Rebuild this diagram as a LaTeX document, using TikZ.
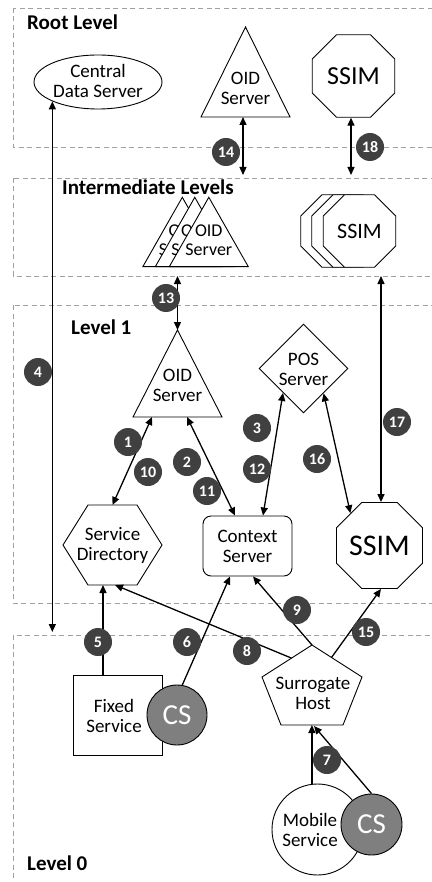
\documentclass[tikz,border=0pt]{standalone}
\usepackage{fontspec}
\setmainfont{Carlito}
\usetikzlibrary{arrows.meta,calc,shapes.geometric}
\definecolor{lvlgray}{HTML}{A0A0A0}
\definecolor{badgegray}{HTML}{404040}
\definecolor{csgray}{HTML}{7F7F7F}

\begin{document}
\begin{tikzpicture}[x=1pt,y=-1pt,
  lvl/.style={draw=lvlgray, line width=0.9pt, dash pattern=on 5pt off 3.5pt},
  lvllabel/.style={font=\fontsize{21}{24}\selectfont\bfseries, inner sep=0pt, anchor=base west},
  box/.style 2 args={rectangle, inner sep=0pt, outer sep=0pt, minimum width=#1, minimum height=#2},
  shp/.style={draw=black, fill=white, line width=0.9pt},
  txt/.style={align=center, inner sep=0pt, font=\fontsize{19}{20}\selectfont},
  link/.style={line width=1.3pt, -{Triangle[length=8pt,width=7pt]}},
  both/.style={line width=1.3pt, {Triangle[length=8pt,width=7pt]}-{Triangle[length=8pt,width=7pt]}},
  badge/.style={circle, fill=badgegray, text=white, inner sep=0pt, minimum size=28pt,
                font=\fontsize{16}{16}\selectfont\bfseries},
  oct/.style={regular polygon, regular polygon sides=8, shp, inner sep=0pt, minimum size=#1},
  csdot/.style={circle, draw=black, fill=csgray, text=white, line width=0.9pt, inner sep=0pt,
                minimum size=60pt, font=\fontsize{29}{30}\selectfont},
]
\useasboundingbox (0,0) rectangle (431,882);

% ---------- level frames ----------
\draw[lvl] (13,8)   rectangle (445,147);
\draw[lvl] (13,178) rectangle (445,276);
\draw[lvl] (13,305) rectangle (445,603);
\draw[lvl] (13,635) rectangle (445,900);
\node[lvllabel] (lvRoot)  at (27,30)  {Root Level};
\node[lvllabel] (lvInter) at (62,195) {Intermediate Levels};
\node[lvllabel] (lvOne)   at (71,334) {Level 1};
\node[lvllabel] (lvZero)  at (27,870) {Level 0};

\coordinate (interTop) at (0,175);
\coordinate (interBot) at (0,276);
\coordinate (zeroTop)  at (0,632);

% ---------- root level ----------
\node[ellipse, shp, inner sep=0pt, minimum width=128pt, minimum height=54pt] (cds) at (98,82) {};
\node[txt] (cdsT) at (98,81) {Central\\Data Server};

\node[box={89pt}{90pt}] (oidR) at (245.5,72) {};
\draw[shp] (oidR.south west) -- (oidR.north) -- (oidR.south east) -- cycle;
\node[txt] (oidRT) at ($(oidR.center)+(0,16)$) {OID\\Server};

\node[oct=89.3pt, font=\fontsize{26}{28}\selectfont] (ssimR) at (353.5,76) {SSIM};

% ---------- intermediate levels ----------
\node[box={79pt}{69.4pt}] (oidI3) at (182.3,232) {};
\draw[shp] (oidI3.south west) -- (oidI3.north) -- (oidI3.south east) -- cycle;
\node[txt, font=\fontsize{18}{19}\selectfont] (oidI3T) at ($(oidI3.center)+(0,8)$) {OID\\Server};
\node[box={79pt}{69.4pt}] (oidI2) at (194.8,232) {};
\draw[shp] (oidI2.south west) -- (oidI2.north) -- (oidI2.south east) -- cycle;
\node[txt, font=\fontsize{18}{19}\selectfont] (oidI2T) at ($(oidI2.center)+(0,8)$) {OID\\Server};
\node[box={79pt}{69.4pt}] (oidI1) at (208.8,232) {};
\draw[shp] (oidI1.south west) -- (oidI1.north) -- (oidI1.south east) -- cycle;
\node[txt, font=\fontsize{18}{19}\selectfont] (oidI1T) at ($(oidI1.center)+(0,8)$) {OID\\Server};

\node[oct=78.5pt] (ssimI3) at (337,231) {};
\node[oct=78.5pt] (ssimI2) at (348,231) {};
\node[oct=78.5pt, font=\fontsize{22}{24}\selectfont] (ssimI1) at (359.5,231) {SSIM};

% ---------- level 1 ----------
\node[box={89pt}{87pt}] (oid1) at (177.5,373.5) {};
\draw[shp] (oid1.south west) -- (oid1.north) -- (oid1.south east) -- cycle;
\node[txt] (oid1T) at ($(oid1.center)+(0,12)$) {OID\\Server};

\node[diamond, shp, inner sep=0pt, minimum width=89pt, minimum height=89pt] (pos) at (303.5,368.5) {};
\node[txt] (posT) at (303.5,369) {POS\\Server};

\node[box={99pt}{80pt}] (sd) at (112.5,545) {};
\draw[shp] ($(sd.north west)+(25,0)$) -- ($(sd.north east)+(-25,0)$) -- (sd.east)
  -- ($(sd.south east)+(-25,0)$) -- ($(sd.south west)+(25,0)$) -- (sd.west) -- cycle;
\node[txt] (sdT) at (112.5,545) {Service\\Directory};

\node[rectangle, rounded corners=8pt, shp, inner sep=0pt, minimum width=89pt, minimum height=60pt] (cs) at (247.5,546) {};
\node[txt] (csT) at (247.5,546) {Context\\Server};

\node[oct=86.6pt, font=\fontsize{30}{32}\selectfont] (ssim1) at (379.5,545.5) {SSIM};

% ---------- level 0 ----------
\node[rectangle, shp, inner sep=0pt, minimum width=89pt, minimum height=80pt] (fs) at (117.5,715) {};
\node[txt] (fsT) at (114,716) {Fixed\\Service};
\node[csdot] (cs1) at (177,715) {CS};

\node[box={100pt}{80pt}] (sh) at (312,685) {};
\coordinate (shL) at ($(sh.north west)+(0,32)$);
\coordinate (shR) at ($(sh.north east)+(0,32)$);
\draw[shp] (sh.north) -- (shR) -- ($(sh.south east)+(-19,0)$) -- ($(sh.south west)+(19,0)$) -- (shL) -- cycle;
\node[txt] (shT) at (313,693) {Surrogate\\Host};

\node[circle, shp, inner sep=0pt, minimum size=91pt] (ms) at (317.5,829.5) {};
\node[txt] (msT) at (310,830) {Mobile\\Service};
\node[csdot, minimum size=61pt] (cs2) at (371.5,824.5) {CS};

% ---------- connectors ----------
\coordinate (a14) at ($(oidR.south)+(-2.5,0)$);
\draw[both] (a14) -- (a14 |- interTop);
\coordinate (a18) at ($(ssimR.south)+(-2.5,0)$);
\draw[both] (a18) -- (a18 |- interTop);
\draw[both] (cds.203) -- (cds.203 |- zeroTop);
\draw[both] (oid1.north |- interBot) -- (oid1.north);
\coordinate (a17) at ($(ssim1.north)+(1.5,0)$);
\draw[both] (a17 |- interBot) -- (a17);

\draw[both] ($(oid1.south west)+(19,0)$) -- (sd.north);
\draw[both] ($(oid1.south west)+(54,0)$) -- ($(cs.north)+(-12.5,0)$);
\draw[both] (pos.230) -- ($(cs.north)+(15.5,0)$);
\draw[both] (pos.-51) -- (ssim1.132);

\draw[link] ($(fs.north)+(-14.5,0)$) -- ($(sd.south)+(-9.5,0)$);
\draw[link] (cs1.80) -- ($(cs.south)+(-17.5,0)$);
\draw[link] ($(sh.north)!0.41!(shL)$) -- ($(sd.south)+(2.5,0)$);
\draw[link] (sh.north) -- ($(cs.south)+(5.5,0)$);
\draw[link] ($(sh.north)!0.39!(shR)$) -- ($(ssim1.south)+(1.5,0)$);
\draw[link] (ms.97) -- (ms.97 |- sh.south);
\draw[link] (cs2.north) -- ($(sh.south)+(2,1)$);

% ---------- step badges ----------
\node[badge] (b1)  at (128,442) {1};
\node[badge] (b2)  at (187,462) {2};
\node[badge] (b3)  at (257,428) {3};
\node[badge] (b4)  at (38,372)  {4};
\node[badge] (b5)  at (98,642)  {5};
\node[badge] (b6)  at (187,642) {6};
\node[badge] (b7)  at (327,760) {7};
\node[badge] (b8)  at (247,651) {8};
\node[badge] (b9)  at (297,610) {9};
\node[badge] (b10) at (148,472) {10};
\node[badge] (b11) at (207,491) {11};
\node[badge] (b12) at (257,469) {12};
\node[badge] (b13) at (166,298) {13};
\node[badge] (b14) at (226,152) {14};
\node[badge] (b15) at (366,632) {15};
\node[badge] (b16) at (317,459) {16};
\node[badge] (b17) at (397,422) {17};
\node[badge] (b18) at (370,147) {18};
\end{tikzpicture}
\end{document}
